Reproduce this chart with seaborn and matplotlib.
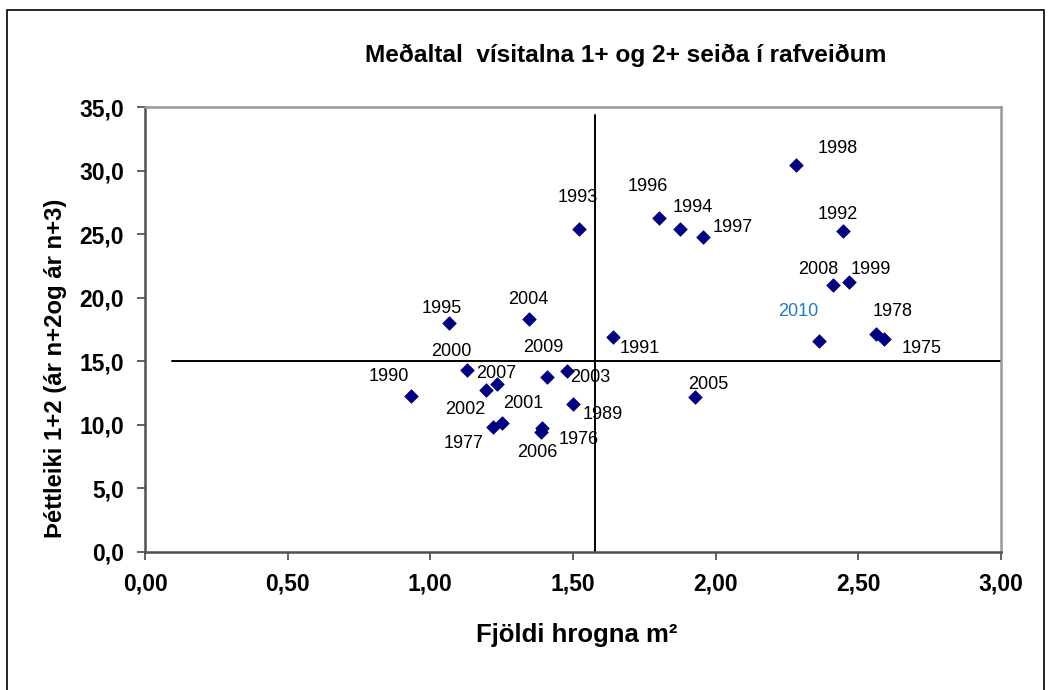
import matplotlib
matplotlib.use("Agg")
import matplotlib.pyplot as plt
import seaborn as sns
import pandas as pd
from matplotlib.patches import Rectangle

# ---- data ----
years = [1975, 1976, 1977, 1978, 1989, 1990, 1991, 1992, 1993, 1994, 1995, 1996, 1997,
         1998, 1999, 2000, 2001, 2002, 2003, 2004, 2005, 2006, 2007, 2008, 2009, 2010]
hrogn = [2.590, 1.392, 1.220, 2.562, 1.500, 0.932, 1.640, 2.447, 1.521, 1.875, 1.066, 1.802, 1.956,
         2.282, 2.468, 1.128, 1.251, 1.195, 1.479, 1.346, 1.928, 1.388, 1.233, 2.411, 1.409, 2.362]
thettleiki = [16.76, 9.76, 9.85, 17.15, 11.63, 12.27, 16.90, 25.26, 25.41, 25.41, 18.00, 26.28, 24.78,
              30.45, 21.24, 14.30, 10.15, 12.75, 14.20, 18.30, 12.20, 9.44, 13.20, 21.00, 13.80, 16.60]
mean_x = 1.578
mean_y = 15.05
hline_start = 0.095
vline_top = 34.37

title = "Meðaltal  vísitalna 1+ og 2+ seiða í rafveiðum"
xlabel = "Fjöldi hrogna m²"
ylabel = "Þéttleiki 1+2 (ár n+2og ár n+3)"
xticks = [0.0, 0.5, 1.0, 1.5, 2.0, 2.5, 3.0]
yticks = [0, 5, 10, 15, 20, 25, 30, 35]

# label offsets (pixels: dx right, dy down)
label_offsets = {
    1975: (38, 10), 1976: (37, 12), 1977: (-30, 17), 1978: (17, -22), 1989: (30, 10),
    1990: (-22, -19), 1991: (27, 11), 1992: (-5, -16), 1993: (-1, -31), 1994: (13, -21),
    1995: (-7, -15), 1996: (-11, -31), 1997: (30, -9), 1998: (42, -16), 1999: (22, -12),
    2000: (-16, -19), 2001: (21, -19), 2002: (-21, 20), 2003: (23, 6), 2004: (-1, -20),
    2005: (13, -12), 2006: (-4, 21), 2007: (-1, -11), 2008: (-15, -16), 2009: (-4, -29),
    2010: (-21, -29),
}

df = pd.DataFrame({"year": years, "x": hrogn, "y": thettleiki})

sns.set_theme(style="white")
plt.rcParams["font.family"] = ["Liberation Sans", "DejaVu Sans"]
plt.rcParams["text.color"] = "black"
plt.rcParams["axes.labelcolor"] = "black"
plt.rcParams["xtick.color"] = "black"
plt.rcParams["ytick.color"] = "black"

fig = plt.figure(figsize=(10.51, 6.90), dpi=100)
ax = fig.add_axes([145 / 1051, 138 / 690, 856 / 1051, 445 / 690])

# reference lines
ax.plot([mean_x, mean_x], [0, vline_top], color="black", lw=1.4, zorder=1)
ax.plot([hline_start, 3.0], [mean_y, mean_y], color="black", lw=1.4, zorder=1, clip_on=False)

sns.scatterplot(data=df, x="x", y="y", marker="D", s=48, color="#000080",
                edgecolor="#000080", linewidth=0.5, ax=ax, zorder=3, legend=False)

for yr, xv, yv in zip(years, hrogn, thettleiki):
    dx, dy = label_offsets[yr]
    ax.annotate(str(yr), (xv, yv), xytext=(dx, -dy), textcoords="offset pixels",
                ha="center", va="center", fontsize=13,
                color="#1F7BC8" if yr == 2010 else "black", zorder=4)

ax.set_xlim(0, 3.0)
ax.set_ylim(0, 35)
ax.set_xticks(xticks)
ax.set_yticks(yticks)
ax.set_xticklabels([f"{t:.2f}".replace(".", ",") for t in xticks])
ax.set_yticklabels([f"{t:.1f}".replace(".", ",") for t in yticks])
ax.tick_params(axis="both", direction="out", length=6, width=1.3, color="#555555",
               labelcolor="black", labelsize=16.5, pad=9, bottom=True, left=True)
for lab in ax.get_xticklabels() + ax.get_yticklabels():
    lab.set_fontweight("bold")

for side in ["left", "bottom"]:
    ax.spines[side].set_color("#505050")
    ax.spines[side].set_linewidth(1.8)
for side in ["top", "right"]:
    ax.spines[side].set_color("#999999")
    ax.spines[side].set_linewidth(1.8)

ax.set_xlabel(xlabel, fontsize=18.5, fontweight="bold", color="black")
ax.xaxis.label.set_va("baseline")
ax.xaxis.set_label_coords((576.5 - 145) / 856, (552 - 642) / 445)

ax.set_ylabel(ylabel, fontsize=17.2, fontweight="bold", color="black")
ax.yaxis.label.set_va("baseline")
ax.yaxis.set_label_coords((62 - 145) / 856, (552 - 368.5) / 445)

fig.text(626 / 1051, 1 - 62 / 690, title, ha="center", va="baseline",
         fontsize=17.6, fontweight="bold", color="black")

# outer chart border
fig.patches.append(Rectangle((7 / 1051, -0.02), (1044 - 7) / 1051, (690 - 10) / 690 + 0.02,
                             transform=fig.transFigure, fill=False, edgecolor="black",
                             linewidth=1.2, zorder=0))

fig.savefig("out.png", dpi=100)
